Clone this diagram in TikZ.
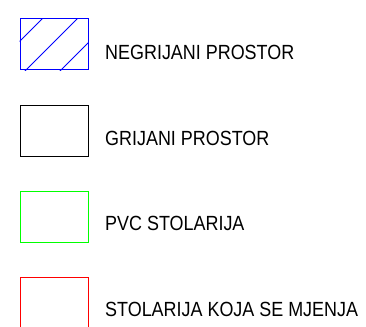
\documentclass[tikz,border=0pt]{standalone}
\usepackage{fontspec}
\newfontfamily\legendfont[FakeStretch=0.875]{Liberation Sans}
\definecolor{cadblue}{RGB}{0,0,255}
\definecolor{cadgreen}{RGB}{0,255,0}
\definecolor{cadred}{RGB}{255,0,0}

\begin{document}
\begin{tikzpicture}[
    x=1pt, y=1pt,
    legendbox/.style={rectangle, draw, line width=1pt, minimum width=68pt, minimum height=51pt, inner sep=0pt},
    legendtext/.style={anchor=west, inner sep=0pt, font=\legendfont\fontsize{20.5}{22}\selectfont}
]

    \useasboundingbox (0,0) rectangle (366,-326);

    \node[legendbox, draw=cadblue] (negrijani) at (54,-44.5) {};
    \node[legendbox, draw=black] (grijani) at (54,-130.5) {};
    \node[legendbox, draw=cadgreen] (pvc) at (54,-216.5) {};
    \node[legendbox, draw=cadred] (mjenja) at (54,-302.5) {};

    \node[legendtext] (negrijaniT) at (105,-52) {NEGRIJANI PROSTOR};
    \node[legendtext] (grijaniT) at (105,-138) {GRIJANI PROSTOR};
    \node[legendtext] (pvcT) at (105,-223.5) {PVC STOLARIJA};
    \node[legendtext] (mjenjaT) at (105,-309.5) {STOLARIJA KOJA SE MJENJA};

    % hatching of the unheated space
    \begin{scope}
        \clip (negrijani.south west) rectangle (negrijani.north east);
        \foreach \c in {61,96,131}
            \draw[cadblue, line width=1pt] (\c-80,-80) -- (\c,0);
    \end{scope}

\end{tikzpicture}
\end{document}
